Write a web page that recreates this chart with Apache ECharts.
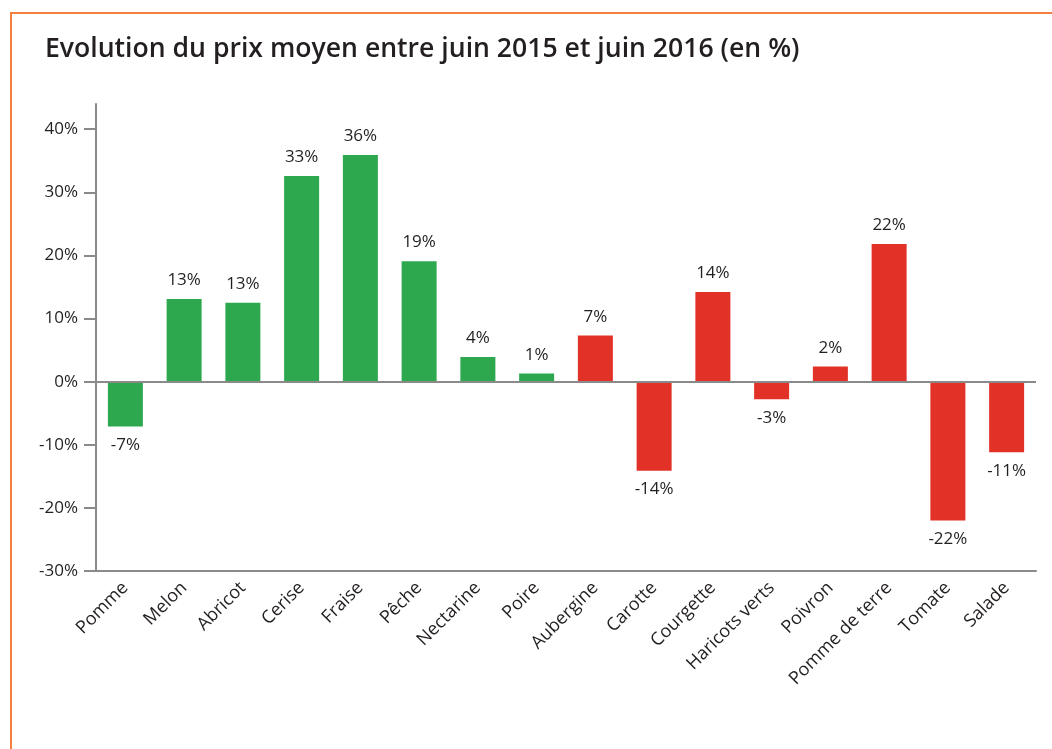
<!DOCTYPE html>
<html><head><meta charset="utf-8">
<script src="https://cdn.jsdelivr.net/npm/echarts@6/dist/echarts.min.js"></script>
<style>
html,body{margin:0;padding:0;background:#fff;overflow:hidden;}
#frame{position:absolute;left:10px;top:12px;width:1100px;height:800px;border-top:2px solid #f2803f;border-left:2px solid #f2803f;}
#chart{position:absolute;left:0;top:0;width:1052px;height:749px;}
</style></head>
<body>
<div id="frame"></div>
<div id="chart"></div>
<script>
const categories = ["Pomme","Melon","Abricot","Cerise","Fraise","Pêche","Nectarine","Poire","Aubergine","Carotte","Courgette","Haricots verts","Poivron","Pomme de terre","Tomate","Salade"];
const values = [-7.1, 13.1, 12.5, 32.6, 35.9, 19.1, 3.9, 1.3, 7.3, -14.1, 14.2, -2.8, 2.4, 21.8, -22, -11.2];
const groups = ["fruit","fruit","fruit","fruit","fruit","fruit","fruit","fruit","legume","legume","legume","legume","legume","legume","legume","legume"];
const yTicks = [-30, -20, -10, 0, 10, 20, 30, 40];
const title = "Evolution du prix moyen entre juin 2015 et juin 2016 (en %)";
const colors = {fruit: "#2ea84f", legume: "#e23227"};

const chart = echarts.init(document.getElementById('chart'), null, {renderer: 'canvas'});
const axisColor = "#8a8a8a";
const textColor = "#231f20";
chart.setOption({
  animation: false,
  title: {
    text: title, left: 40, top: 31,
    textStyle: {fontFamily: "Open Sans", fontSize: 26.6, fontWeight: 600, color: textColor}
  },
  grid: {left: 96, right: 16, top: 104, bottom: 178, containLabel: false},
  xAxis: {
    type: 'category', data: categories, position: 'bottom',
    axisLine: {onZero: false, lineStyle: {color: axisColor, width: 2}},
    axisTick: {alignWithLabel: true, length: 12, lineStyle: {color: axisColor, width: 2}},
    axisLabel: {rotate: 45, fontFamily: "Open Sans", fontSize: 18, color: textColor, margin: 14, interval: 0}
  },
  yAxis: {
    type: 'value', min: -30, max: 44, interval: 10,
    splitLine: {show: false},
    axisLine: {show: true, lineStyle: {color: axisColor, width: 2}},
    axisTick: {show: true, length: 12, customValues: yTicks, lineStyle: {color: axisColor, width: 2}},
    axisLabel: {customValues: yTicks, formatter: v => v + '%', fontFamily: "Open Sans", fontSize: 17, color: textColor, margin: 18}
  },
  series: [{
    type: 'bar', barWidth: 35,
    data: values.map((v, i) => ({
      value: v,
      itemStyle: {color: colors[groups[i]]},
      label: {position: v >= 0 ? 'top' : 'bottom'}
    })),
    label: {show: true, distance: 10, formatter: p => Math.round(p.value) + '%', fontFamily: "Open Sans", fontSize: 17, color: textColor},
    markLine: {
      silent: true, symbol: ['none','none'], label: {show: false},
      lineStyle: {color: axisColor, width: 2, type: 'solid'},
      data: [{yAxis: 0}]
    }
  }]
});
</script>
</body></html>
